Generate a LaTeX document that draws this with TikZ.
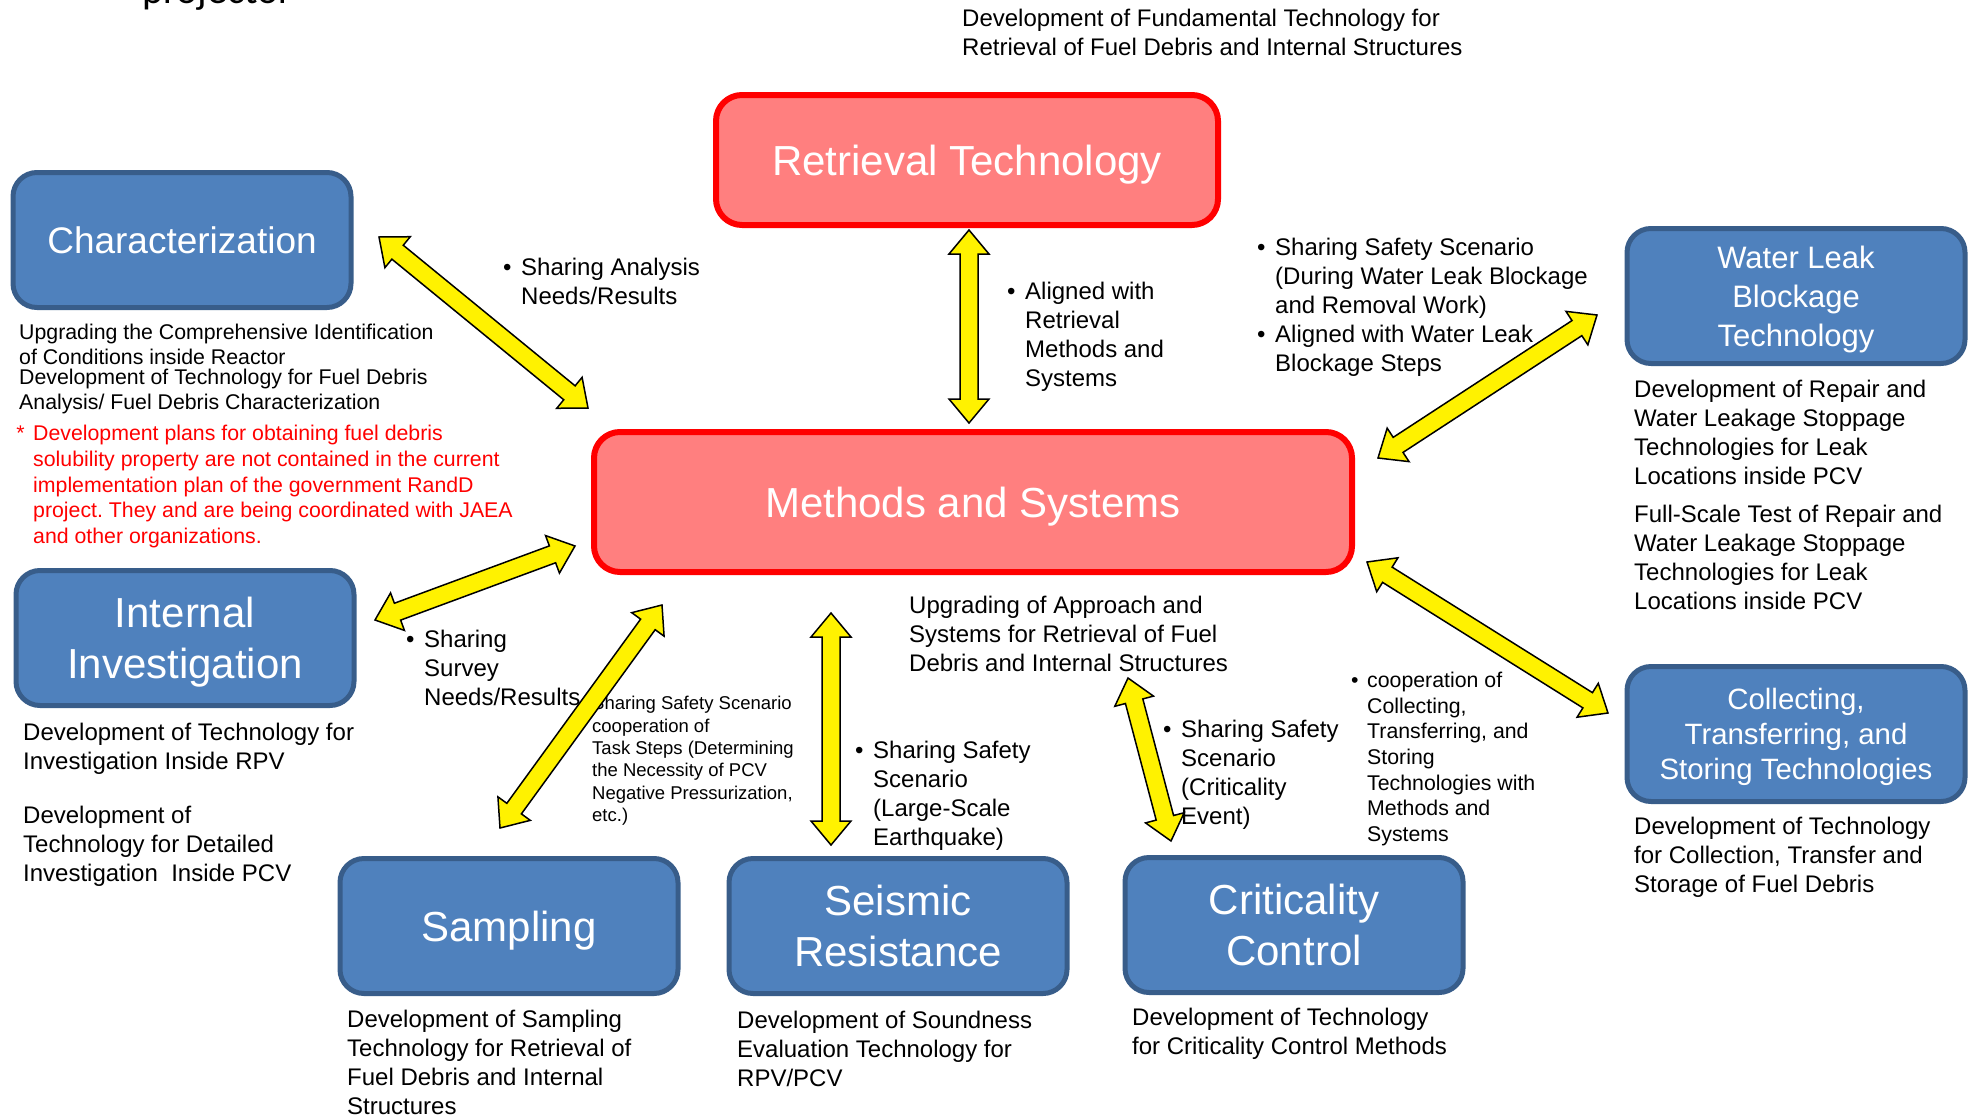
\documentclass[tikz,border=0pt]{standalone}
\usepackage{fontspec}
\setmainfont{Liberation Sans}
\newfontfamily\projfont{Carlito}
\usetikzlibrary{calc}
\definecolor{techfill}{HTML}{4F81BD}
\definecolor{techline}{HTML}{385D8A}
\definecolor{corefill}{HTML}{FF7F7F}
\definecolor{coreline}{HTML}{FF0000}
\frenchspacing
\newcommand{\fsz}[2]{\fontsize{#1}{#2}\selectfont}
\newcommand{\bul}{\llap{\textbullet\hspace{0.4em}}}
\def\headlen{24pt}
\def\headhalf{20pt}
\def\shafthalf{9pt}
% yellow block arrow with two heads
\newcommand{\blockarrow}[2]{%
  \filldraw[fill=yellow, draw=black, line width=1.5pt, line join=miter]
    (#1) -- ($(#1)!\headlen!(#2)!\headhalf!90:(#2)$) -- ($(#1)!\headlen!(#2)!\shafthalf!90:(#2)$)
    -- ($(#2)!\headlen!(#1)!\shafthalf!-90:(#1)$) -- ($(#2)!\headlen!(#1)!\headhalf!-90:(#1)$)
    -- (#2) -- ($(#2)!\headlen!(#1)!\headhalf!90:(#1)$) -- ($(#2)!\headlen!(#1)!\shafthalf!90:(#1)$)
    -- ($(#1)!\headlen!(#2)!\shafthalf!-90:(#2)$) -- ($(#1)!\headlen!(#2)!\headhalf!-90:(#2)$) -- cycle;}
\begin{document}
\begin{tikzpicture}[x=1pt, y=-1pt, line join=round, line cap=round, font=\fsz{24}{29},
  tech/.style={rectangle, rounded corners=24, draw=techline, fill=techfill, line width=5,
    text=white, align=center, text depth=0pt, minimum width=338, minimum height=135, font=\fsz{42}{51}},
  core/.style={rectangle, rounded corners=26, draw=coreline, fill=corefill, line width=6,
    text=white, text depth=0pt, font=\fsz{42}{50}},
  desc/.style={anchor=north west, inner sep=0pt, align=left}]
\useasboundingbox (0,0) rectangle (1972,1116);
% boxes
\node[core, minimum width=502, minimum height=130] (retr) at (967,160) {Retrieval Technology};
\node[core, minimum width=758, minimum height=140] (meth) at (973,502) {Methods and Systems};
\node[tech, font=\fsz{37}{44}] (char) at (182,240) {Characterization};
\node[tech] (inv) at (185,638) {Internal\\Investigation};
\node[tech, font=\fsz{31}{39}] (leak) at (1796,296) {Water Leak\\Blockage\\Technology};
\node[tech, font=\fsz{29.4}{35}] (coll) at (1796,734) {Collecting,\\Transferring, and\\Storing Technologies};
\node[tech] (samp) at (509,926) {Sampling};
\node[tech] (seis) at (898,926) {Seismic\\Resistance};
\node[tech] (crit) at (1294,925) {Criticality\\Control};
% texts
\node[anchor=base west, inner sep=0pt, font=\projfont\fsz{40}{42}] (proj) at (142,4) {projector};
\node[desc] (retrd) at (962,9) {Development of Fundamental Technology for\\Retrieval of Fuel Debris and Internal Structures};
\node[desc] (charx) at (521,258) {\bul Sharing Analysis\\Needs/Results};
\node[desc, font=\fsz{21.3}{25}] (chard1) at (19,324) {Upgrading the Comprehensive Identification\\of Conditions inside Reactor};
\node[desc, font=\fsz{21.3}{25}] (chard2) at (19,369) {Development of Technology for Fuel Debris\\Analysis/ Fuel Debris Characterization};
\node[desc, font=\fsz{21.3}{25.7}, text=coreline] (note) at (33,425) {\llap{*\hspace{0.4em}}Development plans for obtaining fuel debris\\solubility property are not contained in the current\\implementation plan of the government RandD\\project. They and are being coordinated with JAEA\\and other organizations.};
\node[desc] (retrx) at (1025,282) {\bul Aligned with\\Retrieval\\Methods and\\Systems};
\node[desc] (leakx) at (1275,238) {\bul Sharing Safety Scenario\\(During Water Leak Blockage\\and Removal Work)\\\bul Aligned with Water Leak\\Blockage Steps};
\node[desc] (leakd1) at (1634,380) {Development of Repair and\\Water Leakage Stoppage\\Technologies for Leak\\Locations inside PCV};
\node[desc] (leakd2) at (1634,505) {Full-Scale Test of Repair and\\Water Leakage Stoppage\\Technologies for Leak\\Locations inside PCV};
\node[desc] (methd) at (909,596) {Upgrading of Approach and\\Systems for Retrieval of Fuel\\Debris and Internal Structures};
\node[desc] (invx) at (424,630) {\bul Sharing\\Survey\\Needs/Results};
\node[desc, font=\fsz{18.5}{22.4}] (sampx) at (592,696) {Sharing Safety Scenario\\\bul cooperation of\\Task Steps (Determining\\the Necessity of PCV\\Negative Pressurization,\\etc.)};
\node[desc] (seisx) at (873,741) {\bul Sharing Safety\\Scenario\\(Large-Scale\\Earthquake)};
\node[desc] (critx) at (1181,720) {\bul Sharing Safety\\Scenario\\(Criticality\\Event)};
\node[desc, font=\fsz{21.3}{25.6}] (collx) at (1367,672) {\bul cooperation of\\Collecting,\\Transferring, and\\Storing\\Technologies with\\Methods and\\Systems};
\node[desc] (invd1) at (23,723) {Development of Technology for\\Investigation Inside RPV};
\node[desc] (invd2) at (23,806) {Development of\\Technology for Detailed\\Investigation~ Inside PCV};
\node[desc] (sampd) at (347,1010) {Development of Sampling\\Technology for Retrieval of\\Fuel Debris and Internal\\Structures};
\node[desc] (seisd) at (737,1011) {Development of Soundness\\Evaluation Technology for\\RPV/PCV};
\node[desc] (critd) at (1132,1008) {Development of Technology\\for Criticality Control Methods};
\node[desc] (colld) at (1634,817) {Development of Technology\\for Collection, Transfer and\\Storage of Fuel Debris};
% arrow ends
\foreach \n/\x/\y in {chrA/379/237, chrB/588/408, retA/969/230, retB/969/423,
    lkA/1597/315, lkB/1378/458, invA/375/620, invB/575/546, smpA/500/828, smpB/662/605,
    ssmA/831/845, ssmB/831/613, crtA/1171/841, crtB/1128/678, colA/1608/713, colB/1367/562}
  \coordinate (\n) at (\x,\y);
\foreach \a in {chr,ret,lk,inv,smp,ssm,crt,col}
  \blockarrow{\a A}{\a B};
\end{tikzpicture}
\end{document}
